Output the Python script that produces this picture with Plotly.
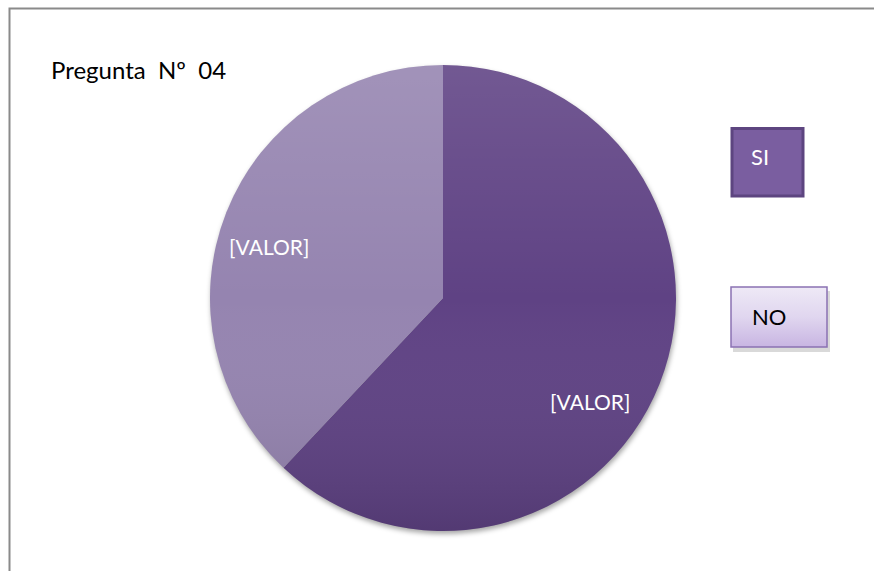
import base64
import plotly.graph_objects as go

# Survey answers for question 04
answers = ["SI", "NO"]
counts = [62, 38]
slice_text = ["[VALOR]", "[VALOR]"]
slice_colors = ["#5f4284", "#9584b0"]
title_text = "Pregunta\u00a0\u00a0Nº\u00a0\u00a004"

W, H = 874, 571
FONT = "Lato"


def px(x):
    return x / W


def py(y):
    return 1 - y / H


# pie placement (pixels)
cx, cy, r = 443, 298, 233

fig = go.Figure()
fig.add_trace(go.Pie(
    labels=answers,
    values=counts,
    sort=False,
    direction="clockwise",
    rotation=0,
    marker=dict(colors=slice_colors, line=dict(width=0)),
    textinfo="none",
    hoverinfo="label+value",
    showlegend=False,
    domain=dict(x=[px(cx - r), px(cx + r)], y=[py(cy + r), py(cy - r)]),
))


def svg_uri(svg):
    return "data:image/svg+xml;base64," + base64.b64encode(svg.encode()).decode()


# soft vertical shading over the disc
shade_svg = (
    '<svg xmlns="http://www.w3.org/2000/svg" width="466" height="466" viewBox="0 0 100 100" preserveAspectRatio="none">'
    '<defs><linearGradient id="g" x1="0" y1="0" x2="0" y2="1">'
    '<stop offset="0" stop-color="#ffffff" stop-opacity="0.12"/>'
    '<stop offset="0.5" stop-color="#ffffff" stop-opacity="0"/>'
    '<stop offset="1" stop-color="#000000" stop-opacity="0.13"/>'
    '</linearGradient></defs>'
    '<circle cx="50" cy="50" r="50" fill="url(#g)"/></svg>'
)
# faint drop shadow under the disc
shadow_svg = (
    '<svg xmlns="http://www.w3.org/2000/svg" width="490" height="490" viewBox="0 0 490 490">'
    '<defs><filter id="b" x="-10%" y="-10%" width="120%" height="120%"><feGaussianBlur stdDeviation="2.5"/></filter></defs>'
    '<circle cx="246" cy="248" r="233" fill="#000000" fill-opacity="0.35" filter="url(#b)"/></svg>'
)
# lavender gradient fill for the NO key box
no_box_svg = (
    '<svg xmlns="http://www.w3.org/2000/svg" width="96" height="60" viewBox="0 0 96 60" preserveAspectRatio="none">'
    '<defs><linearGradient id="n" x1="0" y1="0" x2="0" y2="1">'
    '<stop offset="0" stop-color="#eee9f6"/>'
    '<stop offset="0.5" stop-color="#e0d6ef"/>'
    '<stop offset="1" stop-color="#c8b5e2"/>'
    '</linearGradient></defs>'
    '<rect x="0" y="0" width="96" height="60" fill="url(#n)"/></svg>'
)

fig.update_layout(images=[
    dict(source=svg_uri(shadow_svg), xref="paper", yref="paper",
         x=px(cx - 245), y=py(cy - 245), sizex=490 / W, sizey=490 / H,
         sizing="stretch", xanchor="left", yanchor="top", layer="below"),
    dict(source=svg_uri(shade_svg), xref="paper", yref="paper",
         x=px(cx - r), y=py(cy - r), sizex=2 * r / W, sizey=2 * r / H,
         sizing="stretch", xanchor="left", yanchor="top", layer="above"),
    dict(source=svg_uri(no_box_svg), xref="paper", yref="paper",
         x=px(731), y=py(287), sizex=96 / W, sizey=60 / H,
         sizing="stretch", xanchor="left", yanchor="top", layer="above"),
])

shapes = [
    # outer chart frame
    dict(type="rect", xref="paper", yref="paper",
         x0=px(9.5), x1=px(W + 20), y0=py(8.5), y1=py(H + 20),
         line=dict(color="#8a8a8a", width=2), fillcolor="rgba(0,0,0,0)", layer="below"),
    # SI key box
    dict(type="rect", xref="paper", yref="paper",
         x0=px(732), x1=px(803), y0=py(128.5), y1=py(196),
         line=dict(color="#5d4580", width=3), fillcolor="#7a5ea0"),
    # NO key box shadow
    dict(type="rect", xref="paper", yref="paper",
         x0=px(733), x1=px(830), y0=py(291), y1=py(352),
         line=dict(width=0), fillcolor="rgba(0,0,0,0.15)", layer="below"),
    # NO key box outline
    dict(type="rect", xref="paper", yref="paper",
         x0=px(731), x1=px(827), y0=py(287), y1=py(347),
         line=dict(color="#8b72b3", width=1.5), fillcolor="rgba(0,0,0,0)"),
]

annotations = [
    dict(text=title_text, x=px(49), y=py(69), xref="paper", yref="paper",
         xanchor="left", yanchor="middle", showarrow=False,
         font=dict(family=FONT, size=24, color="#000000")),
    dict(text=slice_text[0], x=px(590), y=py(401), xref="paper", yref="paper",
         xanchor="center", yanchor="middle", showarrow=False,
         font=dict(family=FONT, size=21, color="#ffffff")),
    dict(text=slice_text[1], x=px(269), y=py(246), xref="paper", yref="paper",
         xanchor="center", yanchor="middle", showarrow=False,
         font=dict(family=FONT, size=21, color="#ffffff")),
    dict(text=answers[0], x=px(749), y=py(157), xref="paper", yref="paper",
         xanchor="left", yanchor="middle", showarrow=False,
         font=dict(family=FONT, size=22, color="#ffffff")),
    dict(text=answers[1], x=px(750), y=py(316), xref="paper", yref="paper",
         xanchor="left", yanchor="middle", showarrow=False,
         font=dict(family=FONT, size=22, color="#000000")),
]

fig.update_layout(
    width=W, height=H,
    margin=dict(l=0, r=0, t=0, b=0),
    paper_bgcolor="#ffffff",
    plot_bgcolor="#ffffff",
    shapes=shapes,
    annotations=annotations,
    showlegend=False,
)

fig.write_html("out.html")
